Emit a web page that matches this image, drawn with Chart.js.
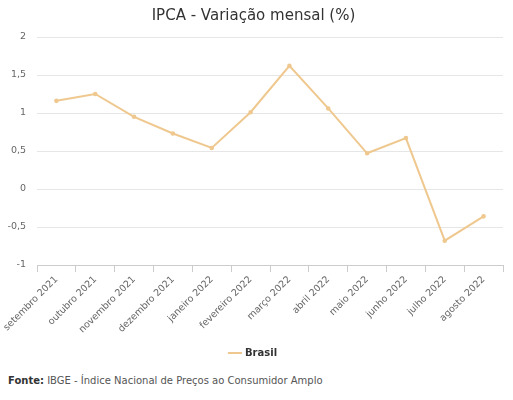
<!DOCTYPE html>
<html>
<head>
<meta charset="utf-8">
<script src="https://cdn.jsdelivr.net/npm/chart.js@4"></script>
<style>
  body { margin: 0; background: #fff; }
  #wrap { position: relative; width: 513px; height: 400px; }
  #fonte { position: absolute; left: 8px; top: 375px; font: 10px "DejaVu Sans", sans-serif; color: #555; }
  #fonte b { color: #333; }
</style>
</head>
<body>
<div id="wrap">
  <canvas id="lineChart" width="513" height="368"></canvas>
  <div id="fonte"><b>Fonte:</b> IBGE - Índice Nacional de Preços ao Consumidor Amplo</div>
</div>
<script>
const months = [
    'setembro 2021', 'outubro 2021', 'novembro 2021', 'dezembro 2021',
    'janeiro 2022', 'fevereiro 2022', 'março 2022', 'abril 2022',
    'maio 2022', 'junho 2022', 'julho 2022', 'agosto 2022'
];
const brasil = [1.16, 1.25, 0.95, 0.73, 0.54, 1.01, 1.62, 1.06, 0.47, 0.67, -0.68, -0.36];
const yTicks = [2, 1.5, 1, 0.5, 0, -0.5, -1];

const LINE = document.getElementById("lineChart");
const ORANGE = '#efc88f';

let lineChart = new Chart(LINE, {
    type: 'line',
    data: {
        labels: months,
        datasets: [{
            label: 'Brasil',
            data: brasil,
            borderColor: ORANGE,
            backgroundColor: ORANGE,
            borderWidth: 2,
            pointRadius: 1.3,
            pointHoverRadius: 3,
            tension: 0
        }]
    },
    options: {
        responsive: false,
        animation: false,
        layout: { padding: { left: 4, right: 10, top: 0, bottom: 0 } },
        plugins: {
            title: {
                display: true,
                text: 'IPCA - Variação mensal (%)',
                color: '#333',
                font: { family: 'DejaVu Sans', size: 15, weight: 'normal' },
                padding: { top: 7, bottom: 12 }
            },
            legend: {
                position: 'bottom',
                labels: {
                    color: '#333',
                    font: { family: 'DejaVu Sans', size: 10, weight: 'bold' },
                    usePointStyle: true,
                    pointStyle: 'line',
                    boxWidth: 14,
                    padding: 14
                }
            }
        },
        scales: {
            x: {
                offset: true,
                afterFit: s => { s.height = 69; s.paddingLeft = 0; },
                grid: {
                    display: true,
                    drawOnChartArea: false,
                    offset: true,
                    color: '#cccccc',
                    tickLength: 7
                },
                border: { color: '#cccccc' },
                ticks: {
                    color: '#666',
                    padding: 2,
                    font: { family: 'DejaVu Sans', size: 9.5 },
                    maxRotation: 45,
                    minRotation: 45,
                    autoSkip: false
                }
            },
            y: {
                min: -1,
                max: 2,
                afterBuildTicks: axis => { axis.ticks = yTicks.map(v => ({ value: v })); },
                afterFit: axis => { axis.width = 33; },
                grid: { color: '#e6e6e6', drawTicks: false },
                border: { display: false },
                ticks: {
                    color: '#666',
                    padding: 11,
                    font: { family: 'DejaVu Sans', size: 9.5 },
                    callback: v => String(v).replace('.', ',')
                }
            }
        }
    }
});
</script>
</body>
</html>
